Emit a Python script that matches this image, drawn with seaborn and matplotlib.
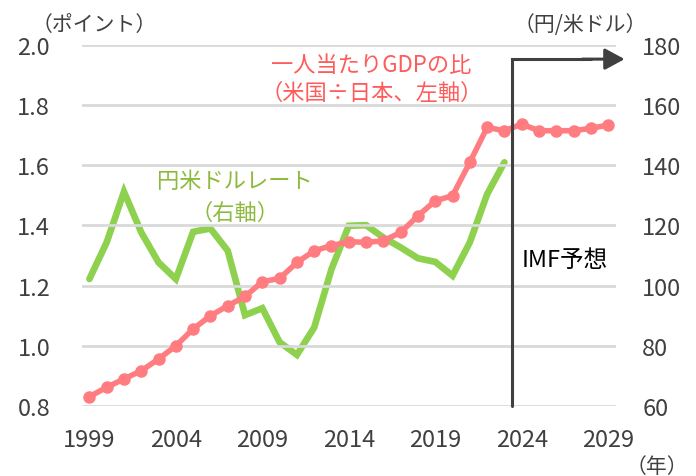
import numpy as np
import pandas as pd
import matplotlib
matplotlib.use('Agg')
import matplotlib.pyplot as plt
import seaborn as sns

# data
years = list(range(1999, 2030))
gdp_ratio = [0.831, 0.862, 0.890, 0.917, 0.956, 1.000, 1.056, 1.100, 1.133, 1.164,
             1.213, 1.224, 1.277, 1.316, 1.333, 1.346, 1.344, 1.349, 1.377, 1.432,
             1.482, 1.499, 1.610, 1.726, 1.715, 1.737, 1.715, 1.715, 1.715, 1.723,
             1.734]
fx_years = list(range(1999, 2024))
usdjpy = [102.2, 114.4, 131.2, 117.7, 107.7, 102.2, 117.9, 119.0, 111.6, 90.2,
          92.5, 81.2, 77.0, 86.1, 105.5, 119.9, 120.1, 116.0, 112.7, 109.1,
          107.9, 103.3, 114.4, 130.4, 141.0]
xticks = [1999, 2004, 2009, 2014, 2019, 2024, 2029]
left_ticks = [0.8, 1.0, 1.2, 1.4, 1.6, 1.8, 2.0]
right_ticks = [60, 80, 100, 120, 140, 160, 180]

gdp_df = pd.DataFrame({'year': years, 'ratio': gdp_ratio})
fx_df = pd.DataFrame({'year': fx_years, 'rate': usdjpy})

sns.set_style('white')
plt.rcParams['font.family'] = ['Noto Sans CJK JP', 'DejaVu Sans']

pink = '#FF7C80'
green = '#8DD14F'
grid_c = '#D9D9D9'
txt = '#404040'

fig = plt.figure(figsize=(6.96, 4.77), dpi=100)
ax = fig.add_axes([0.118, 0.1468, 0.767, 0.7568])
ax2 = ax.twinx()

for y in left_ticks:
    ax.axhline(y, color=grid_c, lw=2, zorder=0)

sns.lineplot(data=fx_df, x='year', y='rate', ax=ax2, color=green, lw=4.8,
             solid_joinstyle='miter', zorder=3)
sns.lineplot(data=gdp_df, x='year', y='ratio', ax=ax, color=pink, lw=4,
             marker='o', markersize=9, markeredgewidth=0, zorder=4, clip_on=False)

# pink line above green
ax.set_zorder(ax2.get_zorder() + 1)
ax.patch.set_visible(False)

ax.set_xlim(1998.58, 2029.45)
ax.set_ylim(0.8, 2.0)
ax2.set_ylim(60, 180)
ax.set_xticks(xticks)
ax.set_yticks(left_ticks)
ax.set_yticklabels([f'{v:.1f}' for v in left_ticks])
ax2.set_yticks(right_ticks)

for a in (ax, ax2):
    for s in a.spines.values():
        s.set_visible(False)
    a.set_xlabel('')
    a.set_ylabel('')
ax.tick_params(axis='both', length=0, labelsize=17, colors=txt)
ax.tick_params(axis='y', pad=23)
ax.tick_params(axis='x', pad=16)
ax2.tick_params(axis='y', length=0, labelsize=17, colors=txt, pad=19)

# forecast marker
ax.plot([2023.43, 2023.43, 2028.0], [0.8, 1.953, 1.953], color=txt, lw=2.2,
        solid_joinstyle='miter', zorder=5, clip_on=False)
ax.annotate('', xy=(2029.95, 1.953), xytext=(2027.5, 1.953),
            arrowprops=dict(arrowstyle='-|>,head_length=1.2,head_width=0.65',
                            color=txt, lw=2.2, shrinkA=0, shrinkB=0),
            annotation_clip=False)
ax.text(2024.0, 1.288, 'IMF予想', fontsize=17, color='black', va='center', ha='left')

ax.text(2015.3, 1.936, '一人当たりGDPの比', fontsize=16, color='#FF5B5B',
        ha='center', va='center')
ax.text(2015.3, 1.843, '（米国÷日本、左軸）', fontsize=16, color='#FF5B5B',
        ha='center', va='center')
ax.text(2007.4, 1.551, '円米ドルレート', fontsize=16, color='#8CBA3C',
        ha='center', va='center')
ax.text(2007.4, 1.445, '（右軸）', fontsize=16, color='#8CBA3C',
        ha='center', va='center')

fig.text(0.135, 0.948, '（ポイント）', fontsize=15, color=txt, ha='center', va='center')
fig.text(0.833, 0.948, '（円/米ドル）', fontsize=15, color=txt, ha='center', va='center')
fig.text(0.944, 0.021, '（年）', fontsize=15, color=txt, ha='center', va='center')

fig.savefig('out.png', dpi=100)
